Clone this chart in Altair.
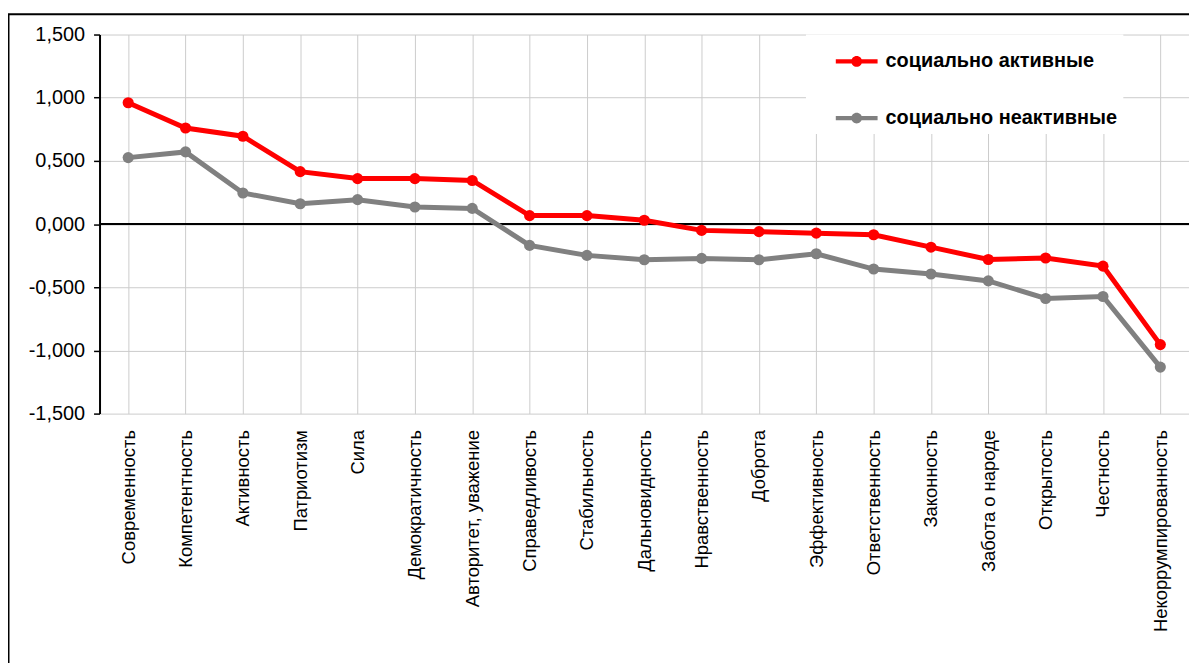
import altair as alt
import pandas as pd

categories = ["Современность", "Компетентность", "Активность", "Патриотизм", "Сила",
              "Демократичность", "Авторитет, уважение", "Справедливость", "Стабильность",
              "Дальновидность", "Нравственность", "Доброта", "Эффективность",
              "Ответственность", "Законность", "Забота о народе", "Открытость",
              "Честность", "Некоррумпированность"]
series_names = ["социально активные", "социально неактивные"]
active = [0.960, 0.760, 0.695, 0.415, 0.360, 0.360, 0.345, 0.067, 0.067, 0.030,
          -0.050, -0.060, -0.072, -0.085, -0.183, -0.280, -0.269, -0.333, -0.954]
inactive = [0.526, 0.571, 0.246, 0.161, 0.193, 0.135, 0.124, -0.169, -0.248, -0.282,
            -0.272, -0.282, -0.235, -0.356, -0.395, -0.450, -0.589, -0.573, -1.132]
y_ticks = [-1.5, -1.0, -0.5, 0.0, 0.5, 1.0, 1.5]
colors = ["#ff0000", "#808080"]

rows = []
for c, a, n in zip(categories, active, inactive):
    rows.append({"cat": c, "series": series_names[0], "value": a})
    rows.append({"cat": c, "series": series_names[1], "value": n})
df = pd.DataFrame(rows)

FONT = "Liberation Sans"
W, H = 1095, 381

legend_path = ("M-1,-0.1H1V0.1H-1Z "
               "M0.26,0A0.26,0.26,0,1,1,-0.26,0A0.26,0.26,0,1,1,0.26,0Z")

x_enc = alt.X("cat:N", sort=categories,
              scale=alt.Scale(paddingInner=0, paddingOuter=0),
              axis=alt.Axis(title=None, labelAngle=-90, labelFontSize=18.5, labelFont=FONT,
                            labelColor="black", labelPadding=16, ticks=False, domain=False,
                            grid=True, bandPosition=0, gridColor="#cccccc", gridWidth=1,
                            labelLimit=400))
y_enc = alt.Y("value:Q", scale=alt.Scale(domain=[-1.5, 1.5], nice=False, zero=False),
              axis=alt.Axis(title=None, values=y_ticks, labelFontSize=20, labelFont=FONT,
                            labelColor="black", labelPadding=9, tickSize=6, tickColor="black",
                            tickWidth=1.5, domainColor="black", domainWidth=2,
                            gridColor="#cccccc", gridWidth=1,
                            labelExpr="replace(replace(format(datum.value, '.3f'), '.', ','), '\u2212', '-')"))
color_scale = alt.Scale(domain=series_names, range=colors)
legend = alt.Legend(title=None, orient="none", legendX=710, legendY=0,
                    fillColor="white", padding=6, symbolOffset=24,
                    labelFontSize=20, labelFontWeight="bold", labelFont=FONT,
                    labelColor="black", labelOffset=8,
                    symbolType=legend_path, symbolSize=1764, symbolStrokeWidth=0,
                    symbolOpacity=1, rowPadding=26, labelLimit=400)

frame = alt.Chart(pd.DataFrame({"d": [0]})).mark_rect(
    fill=None, stroke="black", strokeWidth=2, clip=False
).encode(x=alt.value(-91.5), x2=alt.value(W + 300), y=alt.value(-20.5), y2=alt.value(H + 500))

zero = alt.Chart(pd.DataFrame({"z": [0.0]})).mark_rule(color="black", strokeWidth=2).encode(
    y=alt.Y("z:Q", scale=alt.Scale(domain=[-1.5, 1.5])))

points = alt.Chart(df).mark_circle(size=125, opacity=1).encode(
    x=x_enc, y=y_enc,
    color=alt.Color("series:N", scale=color_scale, legend=legend))
lines = alt.Chart(df).mark_line(strokeWidth=5).encode(
    x=alt.X("cat:N", sort=categories), y="value:Q",
    color=alt.Color("series:N", scale=color_scale))

chart = alt.layer(frame, zero, lines, points).properties(
    width=W, height=H,
    autosize=alt.AutoSizeParams(type="none"),
    padding={"left": 92, "top": 25, "right": 0, "bottom": 249},
    background="white"
).configure_view(stroke=None)

chart.save("out.html", embed_options={"renderer": "svg", "actions": False})
